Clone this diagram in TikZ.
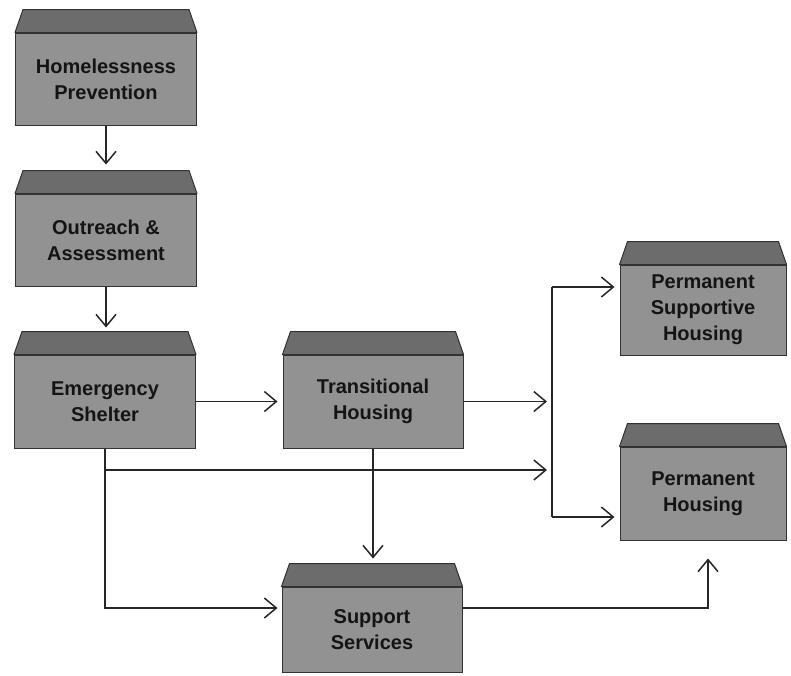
\documentclass[tikz,border=0pt]{standalone}
\usepackage{fontspec}
\setmainfont{Liberation Sans}
\usetikzlibrary{arrows.meta}
\definecolor{facegray}{RGB}{146,146,146}
\definecolor{topgray}{RGB}{108,108,108}
\definecolor{edgegray}{RGB}{50,50,50}
\definecolor{txtgray}{RGB}{20,20,20}
\tikzset{
  box/.style={draw=edgegray, line width=1pt, fill=facegray, align=center,
    font=\bfseries\fontsize{20}{26}\selectfont, text=txtgray, inner sep=0pt},
  topface/.style={draw=edgegray, line width=1pt, fill=topgray, line join=round},
  arr/.style={-{Straight Barb[length=12pt,width=20pt,line width=1.5pt]}, line width=1.5pt, draw=black!85},
  link/.style={line width=1.5pt, draw=black!85}
}
\newcommand\cubebox[6]{%
  \node[box, minimum width=#4pt, minimum height=#5pt] (#1) at (#2,#3) {#6};
  \filldraw[topface] (#1.north west) -- ([xshift=8pt,yshift=23pt]#1.north west)
    -- ([xshift=-8pt,yshift=23pt]#1.north east) -- (#1.north east) -- cycle;
  \coordinate (#1-top) at ([yshift=23pt]#1.north);
}
\begin{document}
\begin{tikzpicture}[x=1pt,y=-1pt]
\useasboundingbox (0,0) rectangle (791,675);
\cubebox{hp}{106}{79}{181}{92}{Homelessness\\Prevention}
\cubebox{oa}{106}{240}{181}{92}{Outreach \&\\Assessment}
\cubebox{es}{105}{401.5}{181}{93}{Emergency\\Shelter}
\cubebox{th}{373}{401.5}{180}{93}{Transitional\\Housing}
\cubebox{psh}{703}{310}{166}{90}{Permanent\\Supportive\\Housing}
\cubebox{ph}{703}{493.5}{166}{93}{Permanent\\Housing}
\cubebox{ss}{372}{629.5}{180}{85}{Support\\Services}

\coordinate (jt) at (552,287);
\coordinate (jb) at (552,517);
\coordinate (jm) at (552,402);
\coordinate (jl) at (552,470);
\coordinate (sy) at (0,608);
\coordinate (pr) at (708,608);

\draw[arr, shorten >=6pt] (hp.south) -- (hp.south |- oa-top);
\draw[arr, shorten >=4pt] (oa.south) -- (oa.south |- es-top);
\draw[arr, shorten >=5pt] (es.east) -- (th.west);
\draw[arr, shorten >=5pt] (th.east) -- (th.east -| jm);
\draw[link] (jt) -- (jb);
\draw[arr, shorten >=5pt] (jt) -- (jt -| psh.west);
\draw[arr, shorten >=5pt] (jb) -- (jb -| ph.west);
\draw[arr, shorten >=5pt] (es.south) -- (es.south |- jl) -- (jl);
\draw[arr, shorten >=4pt] (es.south) -- (es.south |- sy) -- (sy -| ss.west);
\draw[arr, shorten >=5pt] (th.south) -- (th.south |- ss-top);
\draw[arr, shorten >=18pt] (sy -| ss.east) -- (pr) -- (pr |- ph.south);
\end{tikzpicture}
\end{document}
